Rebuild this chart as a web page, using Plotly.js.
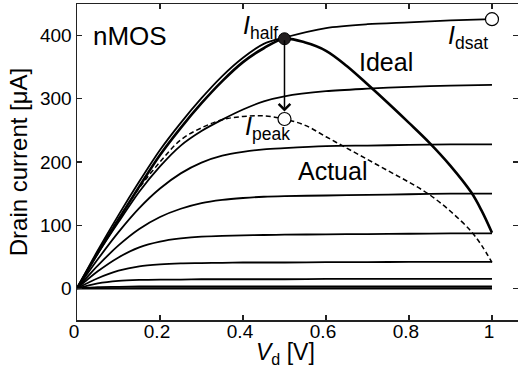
<!DOCTYPE html>
<html>
<head>
<meta charset="utf-8">
<script src="https://cdn.plot.ly/plotly-3.0.1.min.js"></script>
<style>html,body{margin:0;padding:0;background:#fff;}#chart{width:518px;height:378px;}</style>
</head>
<body>
<div id="chart"></div>
<script>
// Drain voltage samples [V]
const vd = [0, 0.05, 0.1, 0.15, 0.2, 0.25, 0.3, 0.35, 0.4, 0.45, 0.5, 0.6, 0.7, 0.8, 0.9, 1.0];
// Drain current family [uA], one per gate voltage
const id428 = [0, 60, 116, 169, 219, 262, 301, 336, 365, 387, 397, 412, 418, 421, 424, 426];
const id322 = [0, 55, 105, 153, 193, 226, 249, 267, 283, 296, 304, 312, 316, 319, 321, 322];
const id228 = [0, 46, 89, 127, 158, 182, 199, 210, 216, 220, 222, 225, 226, 227, 228, 228];
const id150 = [0, 36, 68, 94, 113, 126, 135, 140, 143, 145, 146, 147, 148, 149, 150, 150];
const id87  = [0, 27, 49, 65, 74, 79, 82, 83, 84, 84.5, 85, 85.5, 86, 86.5, 87, 87];
const id42  = [0, 16, 28, 35, 38, 39.5, 40, 40.5, 41, 41, 41, 41.5, 41.5, 42, 42, 42];
const id15  = [0, 8, 12, 13.5, 14, 14, 14.5, 14.5, 14.5, 14.5, 14.5, 15, 15, 15, 15, 15];
const id3   = [0, 2, 2.5, 3, 3, 3, 3, 3, 3, 3, 3, 3, 3, 3, 3, 3];
const id0   = [0, 0, 0, 0, 0, 0, 0, 0, 0, 0, 0, 0, 0, 0, 0, 0];
const family = [id428, id322, id228, id150, id87, id42, id15, id3];

// Ideal locus
const vIdeal = [0, 0.05, 0.1, 0.15, 0.2, 0.25, 0.3, 0.35, 0.4, 0.45, 0.5, 0.55, 0.6, 0.65, 0.7, 0.75, 0.8, 0.85, 0.9, 0.95, 0.975, 1.0];
const iIdeal = [0, 56, 109, 161, 211, 254, 293, 328, 358, 380, 395, 389, 376, 352, 323, 293, 262, 230, 194, 152, 123, 88];
// Actual locus (dashed)
const vActual = [0, 0.05, 0.1, 0.15, 0.2, 0.25, 0.3, 0.35, 0.4, 0.45, 0.5, 0.55, 0.6, 0.65, 0.7, 0.75, 0.8, 0.85, 0.9, 0.95, 0.975, 1.0];
const iActual = [0, 57, 110, 159, 200, 235, 254, 267, 272, 273, 268, 258, 240, 222, 204, 186, 168, 148, 122, 90, 68, 41];

// Marked points
const vHalf = [0.5], iHalf = [395];
const vPeak = [0.5], iPeak = [268];
const vDsat = [1.0], iDsat = [426];

// Axis ticks
const xTicks = [0, 0.2, 0.4, 0.6, 0.8, 1.0];
const xTickText = ['0', '0.2', '0.4', '0.6', '0.8', '1'];
const yTicks = [0, 100, 200, 300, 400];

const FONT = 'Liberation Sans, Arial, Helvetica, sans-serif';
const traces = [];
family.forEach(function (c) {
  traces.push({x: vd, y: c, mode: 'lines', line: {color: '#000', width: 1.8, shape: 'spline', smoothing: 0.8}, hoverinfo: 'skip'});
});
traces.push({x: vd, y: id0, yaxis: 'y2', mode: 'lines', line: {color: '#000', width: 2.4}, hoverinfo: 'skip'});
traces.push({x: vIdeal, y: iIdeal, mode: 'lines', line: {color: '#000', width: 2.6, shape: 'spline', smoothing: 1}, hoverinfo: 'skip'});
traces.push({x: vActual, y: iActual, mode: 'lines', line: {color: '#000', width: 1.5, dash: '5px,3px', shape: 'spline', smoothing: 1}, hoverinfo: 'skip'});
traces.push({x: vHalf, y: iHalf, mode: 'markers', marker: {size: 12, color: '#231f20', line: {color: '#000', width: 1}}, hoverinfo: 'skip'});
traces.push({x: vPeak, y: iPeak, mode: 'markers', marker: {size: 13, color: '#fff', line: {color: '#000', width: 1.2}}, hoverinfo: 'skip'});
traces.push({x: vDsat, y: iDsat, mode: 'markers', marker: {size: 13, color: '#fff', line: {color: '#000', width: 1.2}}, hoverinfo: 'skip'});

const txt = function (t, x, y, size) {
  return {text: t, x: x, y: y, xref: 'x', yref: 'y', xanchor: 'left', yanchor: 'middle', showarrow: false, font: {family: FONT, size: size || 25, color: '#000'}};
};

const layout = {
  width: 518, height: 378,
  margin: {l: 77, r: 0, t: 4, b: 58},
  paper_bgcolor: '#fff', plot_bgcolor: '#fff',
  showlegend: false,
  font: {family: FONT, color: '#000'},
  xaxis: {
    range: [0, 1.0627], tickvals: xTicks, ticktext: xTickText,
    ticks: 'inside', ticklen: 5, tickwidth: 1.3, tickcolor: '#222',
    showline: true, linecolor: '#222', linewidth: 1.5, mirror: 'ticks',
    showgrid: false, zeroline: false,
    ticklabelstandoff: -6, ticklabelshift: -3,
    tickfont: {family: FONT, size: 19, color: '#000'}
  },
  yaxis: {
    range: [-50, 450], tickvals: yTicks,
    ticks: 'inside', ticklen: 5, tickwidth: 1.3, tickcolor: '#222',
    showline: true, linecolor: '#222', linewidth: 1.5,
    showgrid: false, zeroline: false,
    tickfont: {family: FONT, size: 19, color: '#000'},
    title: {text: 'Drain current [μA]', font: {family: FONT, size: 24, color: '#000'}, standoff: 5}
  },
  yaxis2: {
    overlaying: 'y', side: 'right', range: [-50, 450], tickvals: yTicks,
    ticks: 'inside', ticklen: 5, tickwidth: 1.3, tickcolor: '#222',
    showticklabels: false, showline: false, showgrid: false, zeroline: false
  },
  annotations: [
    txt('nMOS', 0.034, 400, 26),
    txt('Ideal', 0.675, 358),
    txt('Actual', 0.528, 186),
    txt('<i>I</i><sub>half</sub>', 0.396, 414),
    txt('<i>I</i><sub>peak</sub>', 0.401, 254),
    txt('<i>I</i><sub>dsat</sub>', 0.888, 398),
    {text: '<i>V</i><sub>d</sub> [V]', xref: 'paper', yref: 'paper', x: 0.472, y: -0.105, xanchor: 'center', yanchor: 'middle',
     showarrow: false, font: {family: FONT, size: 23, color: '#000'}},
    {x: vPeak[0], y: iPeak[0] + 12, ax: vHalf[0], ay: iHalf[0], xref: 'x', yref: 'y', axref: 'x', ayref: 'y',
     text: '', showarrow: true, arrowhead: 4, arrowsize: 1.5, arrowwidth: 1.5, arrowcolor: '#000', standoff: 0}
  ]
};

Plotly.newPlot('chart', traces, layout, {staticPlot: true, displayModeBar: false});
</script>
</body>
</html>
